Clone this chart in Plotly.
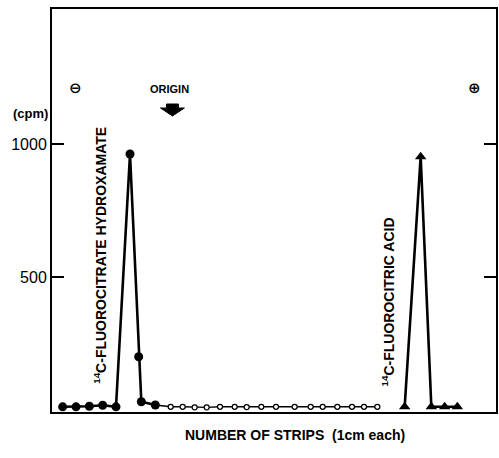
import plotly.graph_objects as go

# ---- data (strip number, cpm) ----
hydrox_x = [1, 2, 3, 4, 5, 6.05, 6.7, 6.9, 7.95]
hydrox_y = [12, 12, 14, 18, 12, 962, 200, 31, 19]

open_x = [9.1, 10.0, 10.9, 11.8, 12.8, 13.9, 14.8, 15.9, 17.0, 18.4, 19.6, 20.5, 21.6, 22.7, 23.6, 24.6]
open_y = [12, 12, 10, 10, 12, 12, 11, 12, 12, 12, 12, 12, 12, 12, 12, 12]

acid_x = [26.65, 27.85, 28.65, 29.65, 30.6]
acid_y = [12, 952, 12, 12, 12]

y_ticks = [500, 1000]
y_tick_labels = ["500", "1000"]

# ---- layout geometry (pixels) ----
W, H = 499, 458
L, R, T, B = 52, 1, 9, 46
PW = W - L - R
PH = H - T - B


def px(x):
    return (x - L) / PW


def py(y):
    return (H - B - y) / PH


FONT = "Liberation Sans"

fig = go.Figure()

# connecting line from hydroxamate to open circles (thin)
fig.add_trace(go.Scatter(
    x=[hydrox_x[-1]] + open_x, y=[hydrox_y[-1]] + open_y,
    mode="lines", line=dict(color="black", width=1.4),
    hoverinfo="skip", showlegend=False))

fig.add_trace(go.Scatter(
    x=open_x, y=open_y, mode="markers",
    marker=dict(symbol="circle", size=5, color="white",
                line=dict(color="black", width=1.3)),
    showlegend=False))

fig.add_trace(go.Scatter(
    x=hydrox_x, y=hydrox_y, mode="lines+markers",
    line=dict(color="black", width=2.6),
    marker=dict(symbol="circle", size=9, color="black"),
    showlegend=False))

fig.add_trace(go.Scatter(
    x=acid_x, y=acid_y, mode="lines+markers",
    line=dict(color="black", width=2.6),
    marker=dict(symbol="triangle-up", size=10, color="black"),
    showlegend=False))

annotations = [
    dict(text="<b>(cpm)</b>", x=px(50), y=py(113), xanchor="right", yanchor="middle",
         font=dict(size=13)),
    dict(text="<b>ORIGIN</b>", x=px(170), y=py(89), xanchor="center", yanchor="middle",
         font=dict(size=11)),
    dict(text="<b>⊖</b>", x=px(76), y=py(88), xanchor="center", yanchor="middle",
         font=dict(size=15, family="DejaVu Sans")),
    dict(text="<b>⊕</b>", x=px(476), y=py(88), xanchor="center", yanchor="middle",
         font=dict(size=15, family="DejaVu Sans")),
    dict(text="<b><sup>14</sup>C-FLUOROCITRATE HYDROXAMATE</b>", x=px(100), y=py(255),
         xanchor="center", yanchor="middle", textangle=-90, font=dict(size=14)),
    dict(text="<b><sup>14</sup>C-FLUOROCITRIC ACID</b>", x=px(390), y=py(302),
         xanchor="center", yanchor="middle", textangle=-90, font=dict(size=14)),
    dict(text="<b>NUMBER OF STRIPS  (1cm each)</b>", x=px(296), y=py(435),
         xanchor="center", yanchor="middle", font=dict(size=14)),
]
for a in annotations:
    a.update(xref="paper", yref="paper", showarrow=False)
    a["font"].setdefault("family", FONT)
    a["font"]["color"] = "black"

# ORIGIN arrow (block arrow pointing down)
ax0 = 173
arrow_path = (f"M {px(ax0-6)},{py(104)} L {px(ax0+6)},{py(104)} L {px(ax0+6)},{py(108)} "
              f"L {px(ax0+12)},{py(108)} L {px(ax0)},{py(116)} L {px(ax0-12)},{py(108)} "
              f"L {px(ax0-6)},{py(108)} Z")

fig.update_layout(
    width=W, height=H,
    margin=dict(l=L, r=R, t=T, b=B),
    paper_bgcolor="white", plot_bgcolor="white",
    font=dict(family=FONT, color="black"),
    annotations=annotations,
    shapes=[dict(type="path", path=arrow_path, xref="paper", yref="paper",
                 fillcolor="black", line=dict(color="black", width=1))],
    xaxis=dict(range=[0.2, 33.5], showgrid=False, zeroline=False,
               showline=True, linecolor="black", linewidth=2, mirror=True,
               showticklabels=False, ticks=""),
    yaxis=dict(range=[-7.5, 1507], showgrid=False, zeroline=False,
               showline=True, linecolor="black", linewidth=2, mirror="ticks",
               tickvals=y_ticks, ticktext=y_tick_labels, ticks="inside",
               ticklen=12, tickwidth=2, tickcolor="black",
               tickfont=dict(size=16, family=FONT, color="black")),
)

fig.write_html("out.html")
